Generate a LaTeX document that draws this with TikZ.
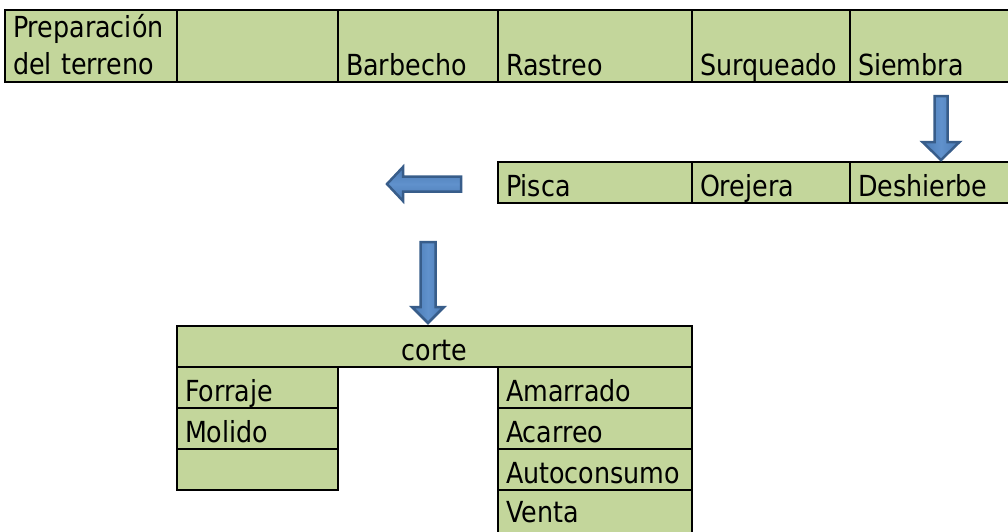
\documentclass[tikz,border=0pt]{standalone}
\usepackage{fontspec}
\setmainfont[FakeStretch=0.875]{DejaVu Sans}
\usetikzlibrary{calc, positioning}
\definecolor{cellgreen}{RGB}{195,214,155}
\definecolor{arrowblue}{RGB}{74,122,180}
\definecolor{arrowlight}{RGB}{96,145,204}
\definecolor{arrowedge}{RGB}{56,93,138}
\tikzset{
  cell/.style={draw, fill=cellgreen, line width=2.5pt, anchor=north west, outer sep=0pt,
    inner xsep=8pt, inner ysep=0pt, align=left, text depth=7pt, text height=34pt},
  tallcell/.style={cell, text height=65pt},
  blockarrow/.style={draw=arrowedge, line width=2.5pt, line join=miter},
  vshade/.style={left color=arrowblue, right color=arrowblue, middle color=arrowlight},
  hshade/.style={top color=arrowblue, bottom color=arrowblue, middle color=arrowlight}
}

\begin{document}
\begin{tikzpicture}[x=1pt, y=-1pt, font=\fontsize{29}{37}\selectfont]
      \useasboundingbox (0,0) rectangle (1008,531);
      \clip (0,0) rectangle (1008,531);
      % first row
      \node[cell, text width=156pt, text height=27pt, text depth=45pt] (prep) at (5,10) {Preparación\\del terreno};
      \node[tallcell, text width=145pt] (blankB) at (prep.north east) {};
      \node[tallcell, text width=144pt] (barbecho) at (blankB.north east) {Barbecho};
      \node[tallcell, text width=178pt] (rastreo) at (barbecho.north east) {Rastreo};
      \node[tallcell, text width=142pt] (surqueado) at (rastreo.north east) {Surqueado};
      \node[tallcell, text width=154pt] (siembra) at (surqueado.north east) {Siembra};

      % second row
      \node[cell, text width=178pt] (pisca) at (498,162) {Pisca};
      \node[cell, text width=142pt] (orejera) at (pisca.north east) {Orejera};
      \node[cell, text width=154pt] (deshierbe) at (orejera.north east) {Deshierbe};

      % corte and what follows
      \node[cell, text width=499pt, align=center] (corte) at (177,326) {corte};
      \node[cell, text width=145pt] (forraje) at (corte.south west) {Forraje};
      \node[cell, text width=145pt] (molido) at (forraje.south west) {Molido};
      \node[cell, text width=145pt] (blankL) at (molido.south west) {};
      \node[cell, text width=178pt] (amarrado) at (corte.south -| pisca.west) {Amarrado};
      \node[cell, text width=178pt] (acarreo) at (amarrado.south west) {Acarreo};
      \node[cell, text width=178pt] (autoconsumo) at (acarreo.south west) {Autoconsumo};
      \node[cell, text width=178pt, text height=32pt, text depth=11pt] (venta) at (autoconsumo.south west) {Venta};

      % block arrows
      \coordinate (down1top) at ([xshift=91pt, yshift=-14pt]siembra.south west);
      \coordinate (down1tip) at ([xshift=91pt, yshift=2pt]deshierbe.north west);
      \draw[blockarrow, vshade] ($(down1top)+(-6.5,0)$) -- ($(down1top)+(6.5,0)$) -- ($(down1tip)+(6.5,-18)$)
        -- ($(down1tip)+(18.5,-18)$) -- (down1tip) -- ($(down1tip)+(-18.5,-18)$) -- ($(down1tip)+(-6.5,-18)$) -- cycle;

      \coordinate (left2tail) at ([xshift=-37pt, yshift=-1.5pt]pisca.west);
      \coordinate (left2tip) at ([xshift=-111pt, yshift=-1.5pt]pisca.west);
      \draw[blockarrow, hshade] ($(left2tail)+(0,-7.5)$) -- ($(left2tail)+(0,7.5)$) -- ($(left2tip)+(16,7.5)$)
        -- ($(left2tip)+(16,17)$) -- (left2tip) -- ($(left2tip)+(16,-17)$) -- ($(left2tip)+(16,-7.5)$) -- cycle;

      \coordinate (down3top) at ([xshift=-6.5pt, yshift=84pt]corte.north);
      \coordinate (down3tip) at ([xshift=-6.5pt, yshift=3pt]corte.north);
      \draw[blockarrow, vshade] ($(down3top)+(-7.5,0)$) -- ($(down3top)+(7.5,0)$) -- ($(down3tip)+(7.5,-16)$)
        -- ($(down3tip)+(16,-16)$) -- (down3tip) -- ($(down3tip)+(-16,-16)$) -- ($(down3tip)+(-7.5,-16)$) -- cycle;
    \end{tikzpicture}
\end{document}
